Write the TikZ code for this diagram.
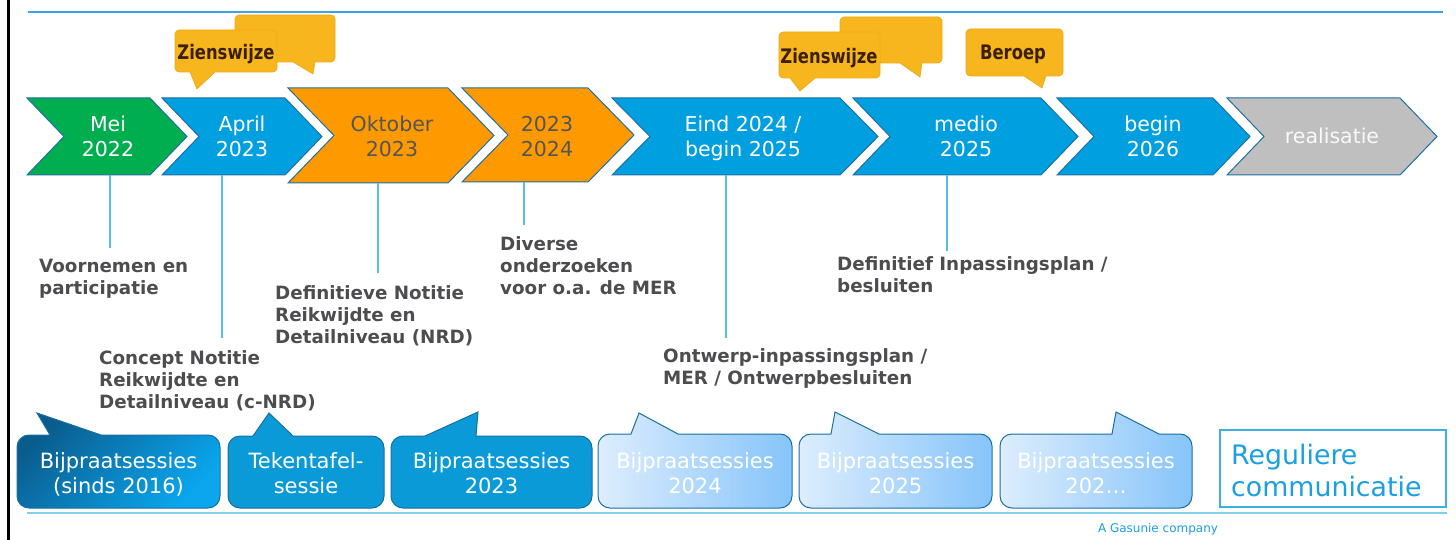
\documentclass[tikz,border=0pt]{standalone}
\usepackage{fontspec}
\setmainfont{DejaVu Sans}
\newfontfamily\yelfont{DejaVu Sans}[FakeStretch=0.82]
\definecolor{cgreen}{HTML}{00AE50}
\definecolor{cblue}{HTML}{009FDF}
\definecolor{corange}{HTML}{FF9900}
\definecolor{cgray}{HTML}{BFBFBF}
\definecolor{cedge}{HTML}{1F6FA6}
\definecolor{corangetxt}{HTML}{555555}
\definecolor{clabel}{HTML}{4D4D4F}
\definecolor{cline}{HTML}{55BEEA}
\definecolor{ctop}{HTML}{3AA5DE}
\definecolor{cbot}{HTML}{80CDEE}
\definecolor{cyellow}{HTML}{F8B61E}
\definecolor{cyedge}{HTML}{EDA810}
\definecolor{cbrown}{HTML}{3A2000}
\definecolor{cbedge}{HTML}{1A6F9F}
\definecolor{cdarkA}{HTML}{0A5C8D}
\definecolor{cdarkB}{HTML}{0AA6EE}
\definecolor{cmid}{HTML}{0A9AD8}
\definecolor{clightA}{HTML}{DDEDFD}
\definecolor{clightB}{HTML}{86C4FA}
\definecolor{creg}{HTML}{1C9FE0}
\definecolor{cregedge}{HTML}{3AB0E3}
\newcommand\ml[2]{\begin{tabular}[t]{@{}#1@{}}#2\end{tabular}}
\newcommand\rr{12}
% style, L, R, T, B, depth
\newcommand\chev[6]{\path[#1] (#2,#4) -- (#3,#4) -- ({#3+#6},{(#4+#5)/2}) -- (#3,#5) -- (#2,#5) -- ({#2+#6},{(#4+#5)/2}) -- cycle;}
% style, L, T, R, B, tailL, tipx, tipy, tailR  (tail on top)
\newcommand\bubtop[9]{\path[#1] (#9,#3) -- ({#4-\rr},#3) arc[start angle=-90,end angle=0,radius=\rr] -- (#4,{#5-\rr}) arc[start angle=0,end angle=90,radius=\rr] -- ({#2+\rr},#5) arc[start angle=90,end angle=180,radius=\rr] -- (#2,{#3+\rr}) arc[start angle=180,end angle=270,radius=\rr] -- (#6,#3) -- (#7,#8) -- cycle;}
% tail at bottom
\newcommand\bubbot[9]{\path[#1] (#6,#5) -- ({#2+\rr},#5) arc[start angle=90,end angle=180,radius=\rr] -- (#2,{#3+\rr}) arc[start angle=180,end angle=270,radius=\rr] -- ({#4-\rr},#3) arc[start angle=-90,end angle=0,radius=\rr] -- (#4,{#5-\rr}) arc[start angle=0,end angle=90,radius=\rr] -- (#9,#5) -- (#7,#8) -- cycle;}
\begin{document}
\begin{tikzpicture}[x=1pt,y=-1pt,
  chevbox/.style={draw=cedge,line width=1pt,line join=miter},
  chevtxt/.style={anchor=base,inner sep=0,font=\fontsize{20.5}{25}\selectfont},
  lbl/.style={anchor=base west,inner sep=0,text=clabel,font=\bfseries\fontsize{18.3}{22}\selectfont},
  vline/.style={draw=cline,line width=1.2pt},
  yel/.style={fill=cyellow,draw=cyedge,line width=0.6pt},
  yeltxt/.style={anchor=base,inner sep=0,text=cbrown,font=\yelfont\bfseries\fontsize{20}{24}\selectfont},
  bub/.style={draw=cbedge,line width=1pt},
  bubtxt/.style={anchor=base,inner sep=0,text=white,font=\fontsize{21}{25}\selectfont},
]
\useasboundingbox (0,0) rectangle (1456,540);
\fill[white] (0,0) rectangle (1456,540);

% frame lines
\coordinate (lt) at (8,0); \coordinate (lb) at (8,540);
\draw[black,line width=3pt] (lt) -- (lb);
\coordinate (tl) at (28,12); \coordinate (tr) at (1443,12);
\draw[ctop,line width=1.5pt] (tl) -- (tr);
\coordinate (bl) at (27,513); \coordinate (br) at (1447,513);
\draw[cbot,line width=2.2pt] (bl) -- (br);

% yellow speech bubbles
\renewcommand\rr{4}
\bubbot{yel}{235}{15}{335}{62}{293}{313}{74}{315}
\bubbot{yel}{175}{30}{277}{72}{190}{197}{89}{215}
\node[yeltxt] (z1) at (226,60) {Zienswijze};
\bubbot{yel}{840}{17}{942}{63}{900}{920}{77}{922}
\bubbot{yel}{779}{32}{880}{78}{790}{800}{91}{815}
\node[yeltxt] (z2) at (829,64) {Zienswijze};
\bubbot{yel}{966}{29}{1063}{76}{1024}{1042}{88}{1046}
\node[yeltxt] (ber) at (1013,60) {Beroep};

% chevrons
\chev{chevbox,fill=cgreen}{27}{150}{98}{175}{37}
\chev{chevbox,fill=cblue}{162}{285}{98}{175}{37}
\chev{chevbox,fill=corange}{288}{448}{88}{183}{46}
\chev{chevbox,fill=corange}{462}{588}{88}{182}{46}
\chev{chevbox,fill=cblue}{612}{840}{98}{175}{38}
\chev{chevbox,fill=cblue}{853}{1041}{98}{175}{37}
\chev{chevbox,fill=cblue}{1057}{1213}{98}{175}{37}
\chev{chevbox,fill=cgray}{1227}{1400}{98}{175}{37}

\node[chevtxt,text=white] (c1) at (108,131.5) {\ml{c}{Mei\\2022}};
\node[chevtxt,text=white] (c2) at (242,131.5) {\ml{c}{April\\2023}};
\node[chevtxt,text=corangetxt] (c3) at (392,131.5) {\ml{c}{Oktober\\2023}};
\node[chevtxt,text=corangetxt] (c4) at (547,131.5) {\ml{c}{2023\\2024}};
\node[chevtxt,text=white] (c5) at (743,131.5) {\ml{c}{Eind 2024 /\\begin 2025}};
\node[chevtxt,text=white] (c6) at (966,131.5) {\ml{c}{medio\\2025}};
\node[chevtxt,text=white] (c7) at (1153,131.5) {\ml{c}{begin\\2026}};
\node[chevtxt,text=white!95!gray] (c8) at (1332,144) {realisatie};

% connector lines
\coordinate (v1a) at (110,175); \coordinate (v1b) at (110,248);
\coordinate (v2a) at (222,175); \coordinate (v2b) at (222,338);
\coordinate (v3a) at (378,183); \coordinate (v3b) at (378,273);
\coordinate (v4a) at (524,182); \coordinate (v4b) at (524,225);
\coordinate (v5a) at (726,175); \coordinate (v5b) at (726,338);
\coordinate (v6a) at (947,175); \coordinate (v6b) at (947,251);
\draw[vline] (v1a) -- (v1b);
\draw[vline] (v2a) -- (v2b);
\draw[vline] (v3a) -- (v3b);
\draw[vline] (v4a) -- (v4b);
\draw[vline] (v5a) -- (v5b);
\draw[vline] (v6a) -- (v6b);

% labels
\node[lbl] (l1) at (39,272) {\ml{l}{Voornemen en\\participatie}};
\node[lbl] (l2) at (99,364) {\ml{l}{Concept Notitie\\Reikwijdte en\\Detailniveau (c-NRD)}};
\node[lbl] (l3) at (275,299) {\ml{l}{Definitieve Notitie\\Reikwijdte en\\Detailniveau (NRD)}};
\node[lbl] (l4) at (500,250) {\ml{l}{Diverse\\onderzoeken\\voor o.a. de MER}};
\node[lbl] (l5) at (663,362) {\ml{l}{Ontwerp-inpassingsplan /\\MER / Ontwerpbesluiten}};
\node[lbl] (l6) at (837,270) {\ml{l}{Definitief Inpassingsplan /\\besluiten}};

% bottom bubbles
\renewcommand\rr{12}
\bubtop{bub,left color=cdarkA,right color=cdarkB,shading angle=45}{17}{435}{220}{508}{50}{37}{413}{101}
\bubtop{bub,fill=cmid}{228}{436}{384}{508}{253}{269}{413}{293}
\bubtop{bub,fill=cmid}{391}{436}{592}{508}{425}{478}{412}{476}
\bubtop{bub,left color=clightA,right color=clightB}{598}{434}{792}{508}{631}{639}{413}{678}
\bubtop{bub,left color=clightA,right color=clightB}{799}{434}{992}{508}{831}{835}{412}{879}
\bubtop{bub,left color=clightA,right color=clightB}{1000}{434}{1192}{508}{1112}{1116}{412}{1159}

\node[bubtxt] (b1) at (118.5,468) {\ml{c}{Bijpraatsessies\\(sinds 2016)}};
\node[bubtxt] (b2) at (306,468) {\ml{c}{Tekentafel-\\sessie}};
\node[bubtxt] (b3) at (491.5,468) {\ml{c}{Bijpraatsessies\\2023}};
\node[bubtxt] (b4) at (695,468) {\ml{c}{Bijpraatsessies\\2024}};
\node[bubtxt] (b5) at (895.5,468) {\ml{c}{Bijpraatsessies\\2025}};
\node[bubtxt] (b6) at (1096,468) {\ml{c}{Bijpraatsessies\\202…}};

\draw[cregedge,line width=1.2pt] (1220,430) rectangle (1446,507);
\node[anchor=base west,inner sep=0,text=creg,font=\fontsize{26.8}{32}\selectfont] (reg) at (1231,464) {\ml{l}{Reguliere\\communicatie}};

\node[anchor=base,inner sep=0,text=creg,font=\fontsize{12}{14}\selectfont] (gas) at (1158,532) {A Gasunie company};
\end{tikzpicture}
\end{document}
